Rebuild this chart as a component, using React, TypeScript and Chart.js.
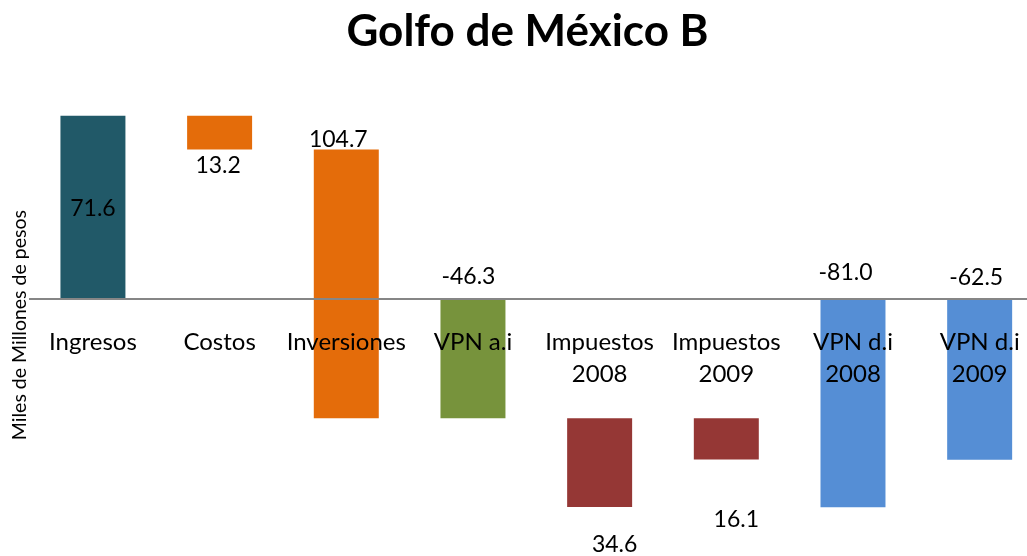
import React, { useEffect, useRef } from 'react';
import { Chart, registerables } from 'chart.js';

Chart.register(...registerables);

const chartTitle = 'Golfo de México B';
const yAxisTitle = 'Miles de Millones de pesos';

const categories: (string | string[])[] = [
  'Ingresos',
  'Costos',
  'Inversiones',
  'VPN a.i',
  ['Impuestos', '2008'],
  ['Impuestos', '2009'],
  ['VPN d.i', '2008'],
  ['VPN d.i', '2009'],
];

// Floating (waterfall) bars: start and end value of each bar
const barStart = [0, 71.6, 58.4, 0, -46.3, -46.3, 0, 0];
const barEnd = [71.6, 58.4, -46.3, -46.3, -80.9, -62.4, -81.0, -62.5];

// Data labels shown on the chart
const valueLabels = ['71.6', '13.2', '104.7', '-46.3', '34.6', '16.1', '-81.0', '-62.5'];

const barColors = ['#215968', '#E46C0A', '#E46C0A', '#77933C', '#953735', '#953735', '#558ED5', '#558ED5'];

// label placement (style): anchor relative to bar edge and pixel nudges
const labelPlacement = [
  { anchor: 'center', dx: 0, dy: 1 },
  { anchor: 'below', dx: -1.5, dy: 16 },
  { anchor: 'above', dx: -8, dy: -10 },
  { anchor: 'above', dx: -4.5, dy: -23 },
  { anchor: 'below', dx: 15, dy: 38 },
  { anchor: 'below', dx: 10, dy: 60 },
  { anchor: 'above', dx: -7.5, dy: -27 },
  { anchor: 'above', dx: -3.5, dy: -22 },
];

const valueLabelPlugin = {
  id: 'valueLabels',
  afterDatasetsDraw(chart: any) {
    const meta = chart.getDatasetMeta(0);
    const ctx = chart.ctx;
    ctx.save();
    ctx.font = '23px Lato';
    ctx.fillStyle = '#000000';
    ctx.textAlign = 'center';
    ctx.textBaseline = 'middle';
    meta.data.forEach((bar: any, i: number) => {
      const { x, y, base } = bar.getProps(['x', 'y', 'base'], true);
      const p = labelPlacement[i];
      const top = Math.min(y, base);
      const bottom = Math.max(y, base);
      const ty = p.anchor === 'center' ? (top + bottom) / 2 : p.anchor === 'below' ? bottom : top;
      ctx.fillText(valueLabels[i], x + p.dx, ty + p.dy);
    });
    ctx.restore();
  },
};

export default function App() {
  const canvasRef = useRef<HTMLCanvasElement | null>(null);

  useEffect(() => {
    if (!canvasRef.current) return;
    const chart = new Chart(canvasRef.current, {
      type: 'bar',
      data: {
        labels: categories as any,
        datasets: [
          {
            data: barStart.map((s, i) => [s, barEnd[i]]) as any,
            backgroundColor: barColors,
            borderWidth: 0,
            barPercentage: 0.513,
            categoryPercentage: 1,
          },
        ],
      },
      options: {
        animation: false,
        responsive: false,
        layout: { padding: { left: 12, right: 7, top: 0, bottom: 0 } },
        plugins: {
          legend: { display: false },
          tooltip: { enabled: false },
          title: {
            display: true,
            text: chartTitle,
            color: '#000000',
            font: { family: 'Lato', size: 44, weight: 'bold', lineHeight: 1.2 },
            padding: { top: 5.6, bottom: 35.8 },
          },
        },
        scales: {
          x: {
            type: 'category',
            position: { y: 0 } as any,
            offset: true,
            grid: { display: false, drawTicks: false },
            border: { display: true, color: '#868686', width: 2, z: 1 },
            ticks: {
              color: '#000000',
              font: { family: 'Lato', size: 24, lineHeight: 32 / 24 },
              padding: 27,
              autoSkip: false,
              maxRotation: 0,
              minRotation: 0,
              z: 1,
            },
          },
          y: {
            min: -100,
            max: 80,
            grid: { display: false },
            border: { display: false },
            ticks: { display: false },
            title: {
              display: true,
              text: yAxisTitle,
              color: '#000000',
              font: { family: 'Lato', size: 19.5, lineHeight: 1 },
              padding: { top: -2, bottom: 0 },
            },
            afterFit: (scale: any) => {
              scale.width = 17.6;
            },
          },
        },
      },
      plugins: [valueLabelPlugin],
    });
    return () => chart.destroy();
  }, []);

  return (
    <div
      style={{
        position: 'fixed',
        left: 0,
        top: 0,
        width: 1027,
        height: 556,
        overflow: 'hidden',
        background: '#ffffff',
      }}
    >
      <canvas ref={canvasRef} width={1050} height={556} style={{ display: 'block' }} />
    </div>
  );
}
